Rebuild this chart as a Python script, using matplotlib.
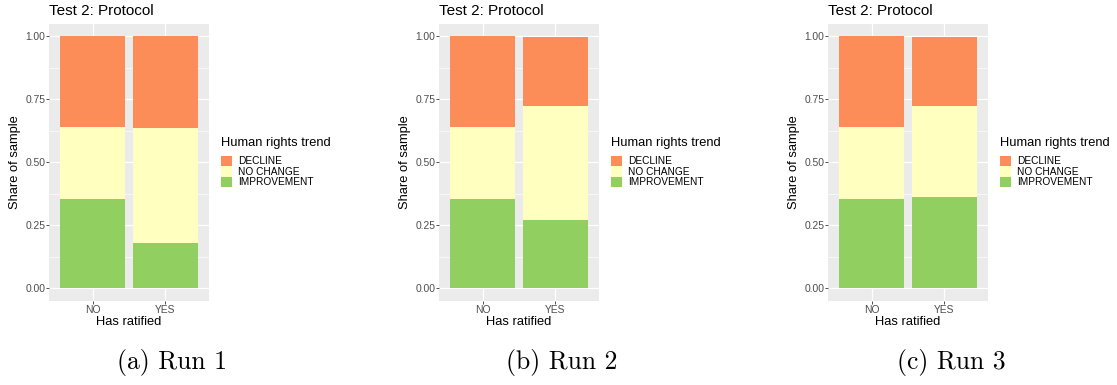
import matplotlib
matplotlib.use("Agg")
import matplotlib.pyplot as plt
import numpy as np
from matplotlib.patches import Patch

plt.rcParams["font.family"] = ["Liberation Sans", "DejaVu Sans"]

# shares of sample per run, order: [NO, YES]
runs = ["(a) Run 1", "(b) Run 2", "(c) Run 3"]
groups = ["NO", "YES"]
trends = ["DECLINE", "NO CHANGE", "IMPROVEMENT"]
improvement = [[0.354, 0.180], [0.354, 0.271], [0.354, 0.362]]
no_change = [[0.285, 0.455], [0.285, 0.452], [0.285, 0.361]]
decline = [[0.361, 0.365], [0.361, 0.273], [0.361, 0.273]]

colors = {"DECLINE": "#FC8D59", "NO CHANGE": "#FFFFBF", "IMPROVEMENT": "#91CF60"}

W, H = 1117, 385
panel_left = [49, 439, 828]
caption_x = [172, 562, 951]
panel_w, panel_h, panel_bottom = 160, 277.5, 301

fig = plt.figure(figsize=(W / 100, H / 100), dpi=100)

for i in range(3):
    ax = fig.add_axes([panel_left[i] / W, (H - panel_bottom) / H, panel_w / W, panel_h / H])
    ax.set_facecolor("#EBEBEB")
    for s in ax.spines.values():
        s.set_visible(False)

    x = np.arange(1, len(groups) + 1)
    imp = np.array(improvement[i])
    nc = np.array(no_change[i])
    dec = np.array(decline[i])
    ax.bar(x, imp, width=0.9, color=colors["IMPROVEMENT"], zorder=2)
    ax.bar(x, nc, width=0.9, bottom=imp, color=colors["NO CHANGE"], zorder=2)
    ax.bar(x, dec, width=0.9, bottom=imp + nc, color=colors["DECLINE"], zorder=2)

    ax.set_xlim(0.4, 2.6)
    ax.set_ylim(-0.05, 1.05)
    ax.set_xticks(x)
    ax.set_xticklabels(groups)
    yt = [0, 0.25, 0.5, 0.75, 1.0]
    ax.set_yticks(yt)
    ax.set_yticklabels([f"{v:.2f}" for v in yt])
    ax.set_yticks([0.125, 0.375, 0.625, 0.875], minor=True)
    ax.tick_params(which="major", length=2, width=0.6, color="#333333",
                   labelsize=7.4, labelcolor="#4D4D4D", pad=0.6)
    ax.tick_params(which="minor", length=0)
    ax.grid(which="major", color="white", linewidth=0.9, zorder=0)
    ax.grid(which="minor", axis="y", color="white", linewidth=0.45, zorder=0)
    ax.set_axisbelow(True)

    ax.set_title("Test 2: Protocol", loc="left", fontsize=11, pad=5.8)
    ax.set_ylabel("Share of sample", fontsize=9.3, va="center")
    ax.yaxis.set_label_coords(-34 / panel_w, 0.5)
    ax.set_xlabel("Has ratified", fontsize=9.3, va="center")
    ax.xaxis.set_label_coords(0.5, -21 / panel_h)

    top = panel_bottom - panel_h
    ax.text(1 + 12 / panel_w, 1 - (143 - top) / panel_h, "Human rights trend",
            fontsize=9.3, va="center", ha="left", transform=ax.transAxes)
    handles = [Patch(facecolor=colors[t], edgecolor="none", label=t) for t in trends]
    ax.legend(handles=handles, loc="upper left",
              bbox_to_anchor=(1 + 12 / panel_w, 1 - (156 - top) / panel_h),
              frameon=False, fontsize=7.3, borderpad=0, borderaxespad=0,
              handlelength=1.1, handleheight=1.15, handletextpad=0.6,
              labelspacing=0)

    fig.text(caption_x[i] / W, 1 - 363 / H, runs[i], fontfamily="cmr10",
             fontsize=18.5, ha="center", va="center")

fig.savefig("out.png", dpi=100, facecolor="white")
